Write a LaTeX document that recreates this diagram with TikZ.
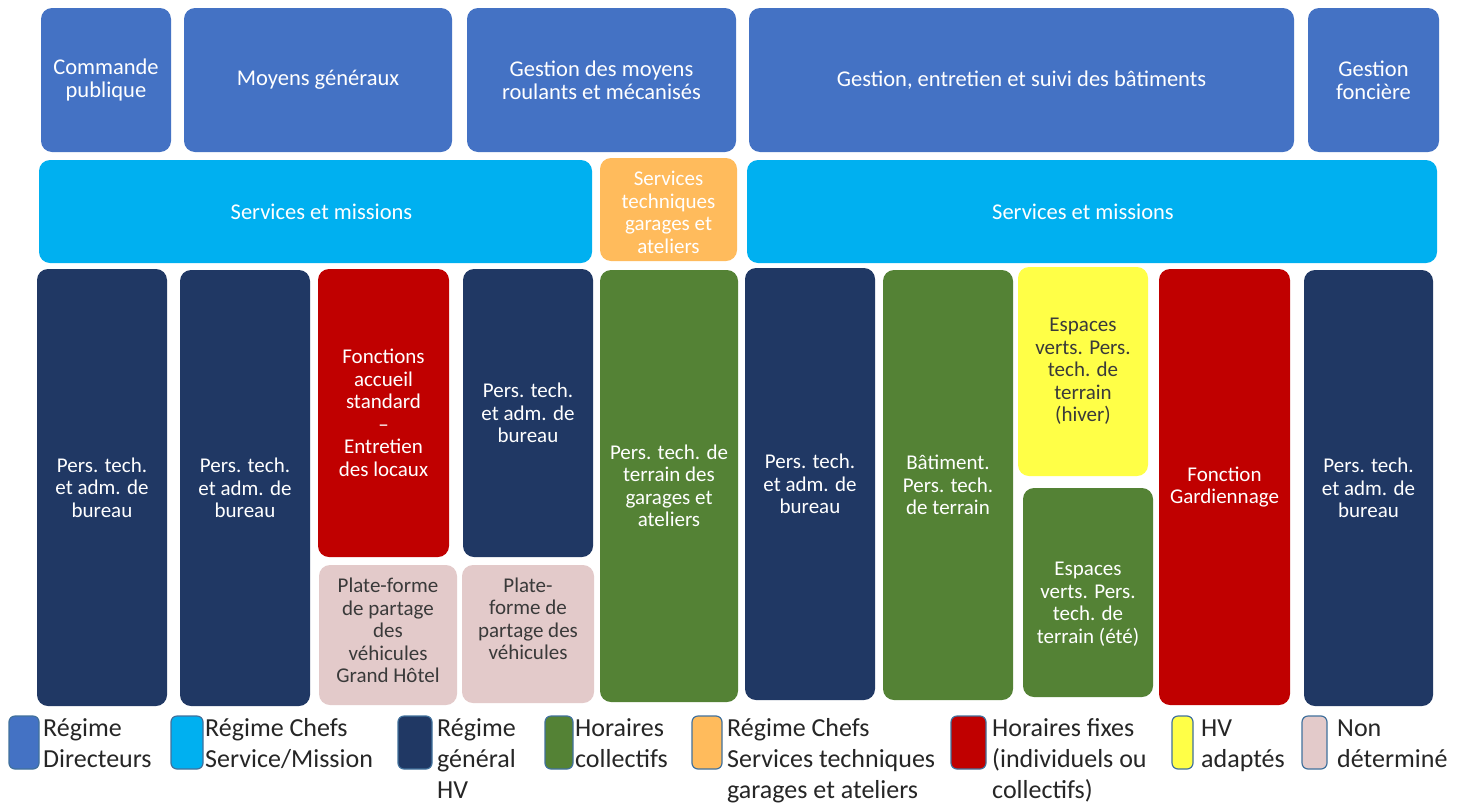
\documentclass[tikz,border=0pt]{standalone}
\usepackage{fontspec}
\setmainfont{Carlito}
\definecolor{topblue}{HTML}{4472C4}
\definecolor{lightblue}{HTML}{00B0F0}
\definecolor{navy}{HTML}{203864}
\definecolor{grn}{HTML}{548235}
\definecolor{orng}{HTML}{FFBB5C}
\definecolor{rd}{HTML}{C00000}
\definecolor{ylw}{HTML}{FFFF47}
\definecolor{pnk}{HTML}{E3CACA}
\definecolor{darktext}{HTML}{3A3A3A}
\definecolor{legtext}{HTML}{262626}
\definecolor{swborder}{HTML}{41719C}
\newcommand\bx[6]{%
  \pgfmathsetmacro\bxw{#4-#2}\pgfmathsetmacro\bxh{#5-#3}%
  \pgfmathsetmacro\bxx{(#2+#4)/2}\pgfmathsetmacro\bxy{(#3+#5)/2}%
  \node[box,#6,minimum width=\bxw pt,minimum height=\bxh pt] (#1) at (\bxx,\bxy) {};}
\tikzset{
  box/.style={rectangle, rounded corners=11pt, inner sep=0pt, draw=none},
  wt/.style={text=white, align=center, inner sep=0pt, font=\fontsize{21}{22.5}\selectfont},
  wtop/.style={wt, font=\fontsize{22.5}{23}\selectfont},
  dt/.style={wt, text=darktext},
  sw/.style={box, rounded corners=6pt, draw=swborder, line width=1.2pt},
  leg/.style={anchor=north west, align=left, inner sep=0pt, text=legtext, font=\fontsize{26}{31}\selectfont},
}
\begin{document}
\begin{tikzpicture}[x=1pt,y=-1pt]
\useasboundingbox[fill=white] (0,0) rectangle (1469,809);
% top row
\bx{cp}{41}{8}{171}{152}{fill=topblue}
\bx{mg}{184}{8}{452}{152}{fill=topblue}
\bx{gm}{467}{8}{736}{152}{fill=topblue}
\bx{ge}{749}{8}{1294}{152}{fill=topblue}
\bx{gf}{1308}{8}{1439}{152}{fill=topblue}
\node[wtop] (cp-t) at (cp) {Commande\\publique};
\node[wtop] (mg-t) at (mg) {Moyens généraux};
\node[wtop] (gm-t) at (gm) {Gestion des moyens\\roulants et mécanisés};
\node[wtop] (ge-t) at (ge) {Gestion, entretien et suivi des bâtiments};
\node[wtop] (gf-t) at (gf) {Gestion\\foncière};
% second row
\bx{sm1}{39}{160}{592}{263}{fill=lightblue}
\bx{st}{600}{158}{737}{261}{fill=orng}
\bx{sm2}{747}{160}{1437}{263}{fill=lightblue}
\node[wtop, xshift=6pt] (sm1-t) at (sm1) {Services et missions};
\node[wt, yshift=-3pt] (st-t) at (st) {Services\\techniques\\garages et\\ateliers};
\node[wtop, xshift=-9pt] (sm2-t) at (sm2) {Services et missions};
% columns
\bx{c1}{37}{269}{167}{706}{fill=navy}
\bx{c2}{180}{270}{310}{706}{fill=navy}
\bx{c3a}{318}{269}{449}{557}{fill=rd}
\bx{c3b}{319}{565}{457}{705}{fill=pnk}
\bx{c4a}{463}{269}{593}{557}{fill=navy}
\bx{c4b}{462}{565}{594}{703}{fill=pnk}
\bx{c5}{600}{270}{738}{702}{fill=grn}
\bx{c6}{745}{268}{875}{700}{fill=navy}
\bx{c7}{883}{270}{1013}{700}{fill=grn}
\bx{c8a}{1018}{267}{1148}{476}{fill=ylw}
\bx{c8b}{1023}{488}{1153}{697}{fill=grn}
\bx{c9}{1159}{269}{1290}{705}{fill=rd}
\bx{c10}{1304}{270}{1433}{706}{fill=navy}
\node[wt] (c1-t) at (c1) {Pers. tech.\\et adm. de\\bureau};
\node[wt] (c2-t) at (c2) {Pers. tech.\\et adm. de\\bureau};
\node[wt] (c3a-t) at (c3a) {Fonctions\\accueil\\standard\\–\\Entretien\\des locaux};
\node[dt, yshift=4.5pt] (c3b-t) at (c3b) {Plate-forme\\de partage\\des\\véhicules\\Grand Hôtel};
\node[wt] (c4a-t) at (c4a) {Pers. tech.\\et adm. de\\bureau};
\node[dt, yshift=15pt] (c4b-t) at (c4b) {Plate-\\forme de\\partage des\\véhicules};
\node[wt] (c5-t) at (c5) {Pers. tech. de\\terrain des\\garages et\\ateliers};
\node[wt] (c6-t) at (c6) {Pers. tech.\\et adm. de\\bureau};
\node[wt] (c7-t) at (c7) {Bâtiment.\\Pers. tech.\\de terrain};
\node[dt] (c8a-t) at (c8a) {Espaces\\verts. Pers.\\tech. de\\terrain\\(hiver)};
\node[wt, yshift=-11.5pt] (c8b-t) at (c8b) {Espaces\\verts. Pers.\\tech. de\\terrain (été)};
\node[wt] (c9-t) at (c9) {Fonction\\Gardiennage};
\node[wt] (c10-t) at (c10) {Pers. tech.\\et adm. de\\bureau};
% legend
\bx{l1}{9}{716}{39}{769}{sw, fill=topblue}
\bx{l2}{171}{716}{203}{769}{sw, fill=lightblue}
\bx{l3}{398}{716}{432}{769}{sw, fill=navy}
\bx{l4}{545}{716}{573}{769}{sw, fill=grn}
\bx{l5}{692}{716}{722}{769}{sw, fill=orng}
\bx{l6}{951}{716}{986}{769}{sw, fill=rd}
\bx{l7}{1172}{716}{1193}{769}{sw, fill=ylw}
\bx{l8}{1302}{716}{1327}{769}{sw, fill=pnk}
\node[leg] (l1-t) at (43,714.3) {\strut Régime\\Directeurs};
\node[leg] (l2-t) at (205,714.3) {\strut Régime Chefs\\Service/Mission};
\node[leg] (l3-t) at (437,714.3) {\strut Régime\\général\\HV};
\node[leg] (l4-t) at (575,714.3) {\strut Horaires\\collectifs};
\node[leg] (l5-t) at (727,714.3) {\strut Régime Chefs\\Services techniques\\garages et ateliers};
\node[leg] (l6-t) at (992,714.3) {\strut Horaires fixes\\(individuels ou\\collectifs)};
\node[leg] (l7-t) at (1201,714.3) {\strut HV\\adaptés};
\node[leg] (l8-t) at (1337,714.3) {\strut Non\\déterminé};
\end{tikzpicture}
\end{document}
